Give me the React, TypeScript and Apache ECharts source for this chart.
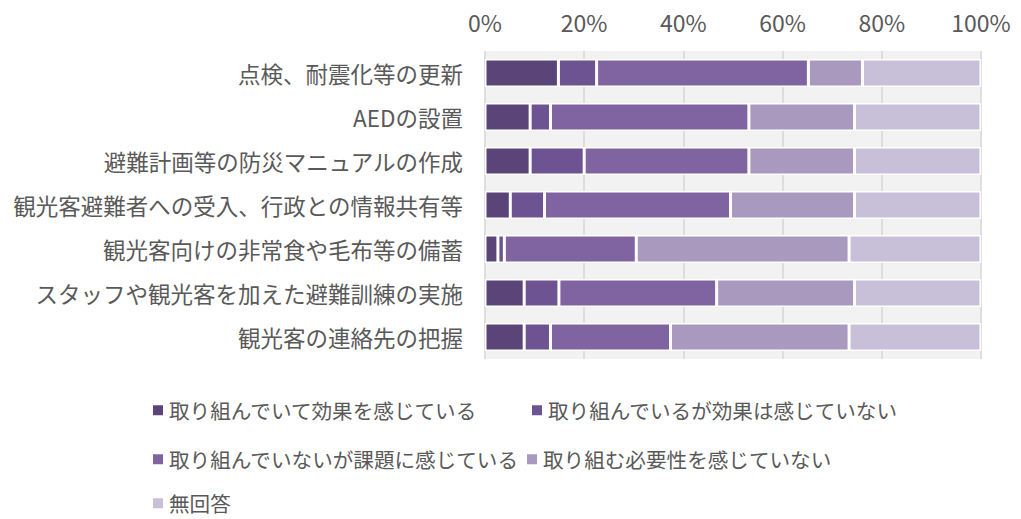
import React, { useEffect, useRef } from "react";
import * as echarts from "echarts";

const categories = [
  "点検、耐震化等の更新",
  "AEDの設置",
  "避難計画等の防災マニュアルの作成",
  "観光客避難者への受入、行政との情報共有等",
  "観光客向けの非常食や毛布等の備蓄",
  "スタッフや観光客を加えた避難訓練の実施",
  "観光客の連絡先の把握",
];

const seriesNames = [
  "取り組んでいて効果を感じている",
  "取り組んでいるが効果は感じていない",
  "取り組んでいないが課題に感じている",
  "取り組む必要性を感じていない",
  "無回答",
];

const effective = [14.8, 9.1, 9.1, 5.1, 2.6, 7.9, 7.9];
const notEffective = [7.7, 4.1, 10.9, 6.9, 1.3, 7.0, 5.3];
const issue = [42.7, 40.0, 33.2, 37.5, 26.6, 31.8, 24.2];
const notNeeded = [10.9, 21.3, 21.3, 25.0, 42.9, 27.8, 36.0];
const noAnswer = [23.9, 25.5, 25.5, 25.5, 26.6, 25.5, 26.6];

const xTicks = [0, 20, 40, 60, 80, 100];

const colors = ["#5b4478", "#6d5391", "#8064a2", "#a999bf", "#c8c0d8"];

export default function App() {
  const ref = useRef<HTMLDivElement>(null);
  useEffect(() => {
    if (!ref.current) return;
    const chart = echarts.init(ref.current, undefined, { renderer: "svg" });
    const values = [effective, notEffective, issue, notNeeded, noAnswer];
    const font = "'Noto Sans CJK JP', 'Noto Sans', sans-serif";
    const legendText = { fontSize: 20.6, color: "#595959", fontFamily: font };
    const legendPos = [
      { left: 151, top: 400 },
      { left: 530, top: 400 },
      { left: 151, top: 449 },
      { left: 525, top: 449 },
      { left: 151, top: 493 },
    ];
    chart.setOption({
      animation: false,
      color: colors,
      grid: {
        left: 485,
        right: 40,
        top: 51,
        height: 308,
        show: true,
        backgroundColor: "#f2f2f2",
        borderWidth: 0,
      },
      xAxis: {
        type: "value",
        position: "top",
        min: xTicks[0],
        max: xTicks[xTicks.length - 1],
        interval: 20,
        axisLine: { show: false },
        axisTick: { show: false },
        splitLine: { show: true, lineStyle: { color: "#d6d6d6", width: 1.5 } },
        axisLabel: {
          formatter: "{value}%",
          fontSize: 23,
          color: "#595959",
          fontFamily: font,
          margin: 18,
        },
      },
      yAxis: {
        type: "category",
        data: categories,
        inverse: true,
        axisLine: { show: false },
        axisTick: { show: false },
        axisLabel: {
          fontSize: 22.5,
          color: "#595959",
          fontFamily: font,
          margin: 22,
        },
      },
      legend: seriesNames.map((name, i) => ({
        data: [name],
        left: legendPos[i].left,
        top: legendPos[i].top,
        padding: 0,
        itemWidth: 12,
        itemHeight: 12,
        icon: "rect",
        textStyle: legendText,
        selectedMode: false,
      })),
      series: seriesNames.map((name, i) => ({
        name,
        type: "bar",
        stack: "total",
        data: values[i],
        barCategoryGap: "36%",
        itemStyle: { color: colors[i], borderColor: "#ffffff", borderWidth: 1.5 },
      })),
    });
    return () => chart.dispose();
  }, []);
  return (
    <div
      ref={ref}
      style={{ position: "absolute", left: 0, top: 0, width: 1021, height: 519 }}
    />
  );
}
